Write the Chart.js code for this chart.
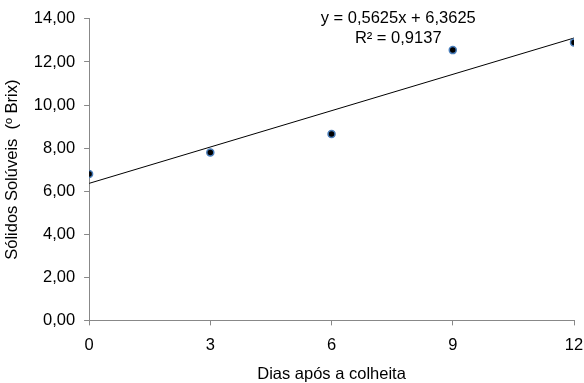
<!DOCTYPE html>
<html lang="pt">
<head>
<meta charset="UTF-8">
<title>Sólidos Solúveis</title>
<script src="https://cdn.jsdelivr.net/npm/chart.js"></script>
<style>
  html, body { margin: 0; padding: 0; background: #fff; }
  #wrap { width: 584px; height: 383px; }
</style>
</head>
<body>
<div id="wrap"><canvas id="brixChart"></canvas></div>
<script>
// dados
const dias = [0, 3, 6, 9, 12];
const brix = [6.80, 7.80, 8.65, 12.55, 12.90];
// linha de tendência (equação do próprio gráfico)
const slope = 0.5625;
const intercept = 6.3625;
const r2 = 0.9137;
const xTicks = [0, 3, 6, 9, 12];

const fmt = v => v.toFixed(2).replace('.', ',');
const trend = [dias[0], dias[dias.length - 1]].map(x => ({ x: x, y: intercept + slope * x }));
const fontFam = '"Liberation Sans", Arial, sans-serif';
const fs = 16.5;

const eqLabel = {
    id: 'eqLabel',
    afterDraw(chart) {
        const { ctx, scales } = chart;
        const cx = scales.x.getPixelForValue(7.65);
        const y1 = scales.y.getPixelForValue(14.0);
        ctx.save();
        ctx.fillStyle = '#000';
        ctx.font = fs + 'px ' + fontFam;
        ctx.textAlign = 'center';
        ctx.textBaseline = 'middle';
        ctx.fillText('y = ' + slope.toString().replace('.', ',') + 'x + ' + intercept.toString().replace('.', ','), cx, y1);
        ctx.fillText('R² = ' + r2.toString().replace('.', ','), cx, y1 + 20);
        ctx.restore();
    }
};

new Chart(document.getElementById('brixChart'), {
    type: 'scatter',
    data: {
        datasets: [{
            label: 'Brix',
            data: dias.map((d, i) => ({ x: d, y: brix[i] })),
            backgroundColor: '#000',
            borderColor: '#4a7ebb',
            borderWidth: 1.5,
            pointRadius: 3.5,
            order: 1
        }, {
            label: 'Tendência',
            data: trend,
            showLine: true,
            borderColor: '#000',
            borderWidth: 1,
            pointRadius: 0,
            order: 2
        }]
    },
    options: {
        responsive: true,
        maintainAspectRatio: false,
        animation: false,
        layout: { padding: { top: 18, right: 0, left: 3, bottom: 0 } },
        plugins: {
            legend: { display: false },
            tooltip: { enabled: false }
        },
        scales: {
            x: {
                type: 'linear',
                min: 0, max: 12,
                afterBuildTicks: axis => { axis.ticks = xTicks.map(v => ({ value: v })); },
                afterFit: axis => { axis.paddingRight = 10; },
                grid: { display: true, drawOnChartArea: false, drawTicks: true, tickLength: 5, tickColor: '#888' },
                border: { color: '#888' },
                ticks: { color: '#000', font: { size: fs, family: fontFam }, padding: 10 },
                title: { display: true, text: 'Dias após a colheita', color: '#000', font: { size: fs, family: fontFam, lineHeight: 1.08 }, padding: { top: 0, bottom: 0 } }
            },
            y: {
                min: 0, max: 14,
                ticks: { stepSize: 2, color: '#000', font: { size: fs, family: fontFam }, padding: 9, callback: v => fmt(v) },
                grid: { display: true, drawOnChartArea: false, drawTicks: true, tickLength: 5, tickColor: '#888' },
                border: { color: '#888' },
                title: { display: true, text: 'Sólidos Solúveis  (º Brix)', color: '#000', font: { size: fs, family: fontFam }, padding: { top: 0, bottom: 2 } }
            }
        }
    },
    plugins: [eqLabel]
});
</script>
</body>
</html>
